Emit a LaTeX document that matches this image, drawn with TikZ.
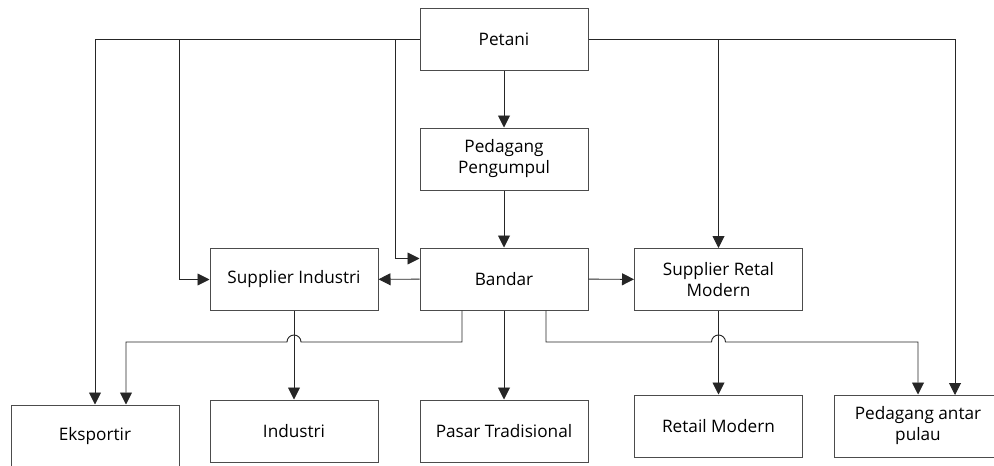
\documentclass[tikz,border=0pt]{standalone}
\usepackage{fontspec}
\setmainfont{Open Sans}
\usetikzlibrary{arrows.meta}

\begin{document}
\begin{tikzpicture}[x=1pt,y=-1pt,
        box/.style={draw=black!70,line width=1pt,minimum width=168pt,minimum height=62pt,
            align=center,inner sep=2pt,font=\fontsize{17.2}{21}\selectfont},
        arr/.style={draw=black!85,line width=0.95pt,-{Triangle[length=12pt,width=12pt]}}]
    \useasboundingbox (0,0) rectangle (994,466);
    \node[box] (petani) at (504,39) {Petani};
    \node[box] (pengumpul) at (504,159) {Pedagang\\Pengumpul};
    \node[box] (bandar) at (504,279) {Bandar};
    \node[box] (supind) at (294,279.5) {Supplier Industri};
    \node[box] (supret) at (718.5,279.5) {Supplier Retal\\Modern};
    \node[box] (eksportir) at (95,436) {Eksportir};
    \node[box] (industri) at (294,431) {Industri};
    \node[box] (pasar) at (504,431) {Pasar Tradisional};
    \node[box] (retail) at (718.5,426) {Retail Modern};
    \node[box] (antar) at (918,426) {Pedagang antar\\pulau};
    \coordinate (cabA) at (179,39);
    \coordinate (cabB) at (395,39);
    \coordinate (kanan) at (955,395);
    \coordinate (hopA) at (294,342);
    \coordinate (hopB) at (718.5,342);
    \coordinate (bKiri) at ([xshift=-42pt]bandar.south);
    \coordinate (bKanan) at ([xshift=42pt]bandar.south);
    \draw[arr] (petani) -- (pengumpul);
    \draw[arr] (pengumpul) -- (bandar);
    \draw[arr] (bandar) -- (supind);
    \draw[arr] (bandar) -- (supret);
    \draw[arr] (bandar) -- (pasar);
    \draw[arr] (supind) -- (industri);
    \draw[arr] (supret) -- (retail);
    \draw[arr] (petani.west) -| (eksportir.north);
    \draw[arr] (cabA) |- (supind.west);
    \draw[arr] (cabB) |- ([yshift=-11pt]bandar.north west);
    \draw[arr] (petani.east) -| (supret.north);
    \draw[arr] (petani.east) -| (kanan);
    \draw[arr] (bKiri) |- ([xshift=7pt]hopA) arc(0:180:7pt) -| ([xshift=31pt]eksportir.north);
    \draw[arr] (bKanan) |- ([xshift=-7pt]hopB) arc(180:0:7pt) -| (antar.north);
\end{tikzpicture}
\end{document}
